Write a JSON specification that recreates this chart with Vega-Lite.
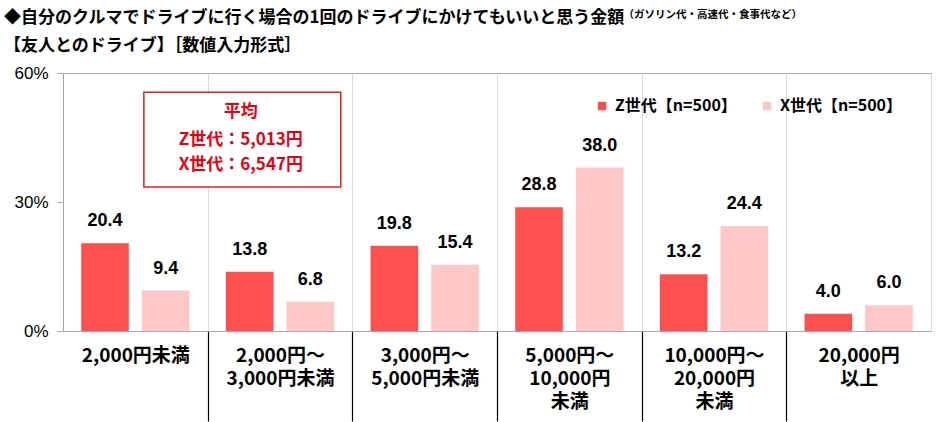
{
  "$schema": "https://vega.github.io/schema/vega-lite/v6.json",
  "width": 940,
  "height": 422,
  "autosize": {"type": "fit", "contains": "padding"},
  "padding": {"left": 3, "top": 9, "right": 9, "bottom": 0},
  "title": {
    "text": ["◆自分のクルマでドライブに行く場合の1回のドライブにかけてもいいと思う金額", "　【友人とのドライブ】［数値入力形式］"],
    "anchor": "start",
    "font": "Noto Sans CJK JP",
    "fontSize": 17,
    "fontWeight": "bold",
    "color": "black",
    "lineHeight": 28,
    "offset": -46,
    "dx": -10
  },
  "config": {
    "font": "Noto Sans CJK JP",
    "view": {"stroke": "#a6a6a6"}
  },
  "resolve": {"scale": {"x": "independent"}},
  "layer": [
    {
      "data": {
        "values": [
          {"cat": "2,000円未満", "gen": "Z世代【n=500】", "v": 20.4},
          {"cat": "2,000円未満", "gen": "X世代【n=500】", "v": 9.4},
          {"cat": "2,000円～|3,000円未満", "gen": "Z世代【n=500】", "v": 13.8},
          {"cat": "2,000円～|3,000円未満", "gen": "X世代【n=500】", "v": 6.8},
          {"cat": "3,000円～|5,000円未満", "gen": "Z世代【n=500】", "v": 19.8},
          {"cat": "3,000円～|5,000円未満", "gen": "X世代【n=500】", "v": 15.4},
          {"cat": "5,000円～|10,000円|未満", "gen": "Z世代【n=500】", "v": 28.8},
          {"cat": "5,000円～|10,000円|未満", "gen": "X世代【n=500】", "v": 38.0},
          {"cat": "10,000円～|20,000円|未満", "gen": "Z世代【n=500】", "v": 13.2},
          {"cat": "10,000円～|20,000円|未満", "gen": "X世代【n=500】", "v": 24.4},
          {"cat": "20,000円|以上", "gen": "Z世代【n=500】", "v": 4.0},
          {"cat": "20,000円|以上", "gen": "X世代【n=500】", "v": 6.0}
        ]
      },
      "encoding": {
        "x": {
          "field": "cat", "type": "nominal", "sort": null,
          "scale": {"paddingInner": 0, "paddingOuter": 0},
          "axis": {
            "title": null,
            "labelExpr": "isValid(datum.value) ? split(datum.value, '|') : ''",
            "labelAngle": 0,
            "labelFont": "Noto Sans CJK JP",
            "labelFontSize": 19,
            "labelFontWeight": "bold",
            "labelColor": "black",
            "labelLineHeight": 23,
            "labelPadding": -75,
            "labelOverlap": false,
            "tickBand": "extent",
            "tickSize": 90,
            "tickColor": "black",
            "tickWidth": 1.2,
            "tickOpacity": {"condition": {"test": "datum.index >= 0 && datum.index < 0.99", "value": 1}, "value": 0},
            "grid": true,
            "gridColor": "#d9d9d9",
            "domainColor": "#a6a6a6"
          }
        },
        "xOffset": {
          "field": "gen", "type": "nominal",
          "scale": {"domain": ["Z世代【n=500】", "X世代【n=500】"], "paddingInner": 0.215, "paddingOuter": 0.3}
        },
        "y": {
          "field": "v", "type": "quantitative",
          "scale": {"domain": [0, 60], "nice": false},
          "axis": {
            "values": [0, 30, 60],
            "labelExpr": "datum.value + '%'",
            "labelFont": "Liberation Sans",
            "labelFontSize": 17,
            "labelColor": "black",
            "labelPadding": 9,
            "tickSize": 6,
            "tickColor": "#a6a6a6",
            "domainColor": "#a6a6a6",
            "grid": false,
            "title": "（ガソリン代・高速代・食事代など）",
            "titleAngle": 0,
            "titleX": 560,
            "titleY": -56,
            "titleAlign": "left",
            "titleBaseline": "alphabetic",
            "titleFont": "Noto Sans CJK JP",
            "titleFontSize": 10.5,
            "titleFontWeight": "bold",
            "titleColor": "black"
          }
        }
      },
      "layer": [
        {
          "mark": {"type": "bar"},
          "encoding": {
            "color": {
              "field": "gen", "type": "nominal",
              "scale": {"domain": ["Z世代【n=500】", "X世代【n=500】"], "range": ["#FF5050", "#FFC8C8"]},
              "legend": {
                "orient": "none",
                "legendX": 531,
                "legendY": 25,
                "direction": "horizontal",
                "title": null,
                "symbolType": "square",
                "symbolSize": 70,
                "symbolStrokeWidth": 0,
                "labelFont": "Noto Sans CJK JP",
                "labelFontSize": 16,
                "labelFontWeight": "bold",
                "labelColor": "black",
                "labelOffset": 5,
                "columnPadding": 22
              }
            }
          }
        },
        {
          "mark": {"type": "text", "dy": -22, "baseline": "middle", "font": "Liberation Sans", "fontSize": 18, "fontWeight": "bold", "color": "black"},
          "encoding": {
            "text": {"field": "v", "type": "quantitative", "format": ".1f"}
          }
        }
      ]
    },
    {
      "encoding": {
        "x": {"field": "bx", "type": "quantitative", "scale": {"domain": [0, 6], "nice": false, "zero": false}, "axis": null},
        "y": {"field": "v", "type": "quantitative"}
      },
      "layer": [
        {
          "data": {"values": [{"bx": 0.559, "bx2": 1.92, "v": 33.5, "v2": 55.5}]},
          "mark": {"type": "rect", "fill": "white", "stroke": "#E02020", "strokeWidth": 1.5},
          "encoding": {
            "x2": {"field": "bx2"},
            "y2": {"field": "v2"}
          }
        },
        {
          "data": {
            "values": [
              {"bx": 1.229, "v": 50.9, "t": "平均"},
              {"bx": 1.229, "v": 44.5, "t": "Z世代：5,013円"},
              {"bx": 1.229, "v": 38.7, "t": "X世代：6,547円"}
            ]
          },
          "mark": {"type": "text", "align": "center", "baseline": "middle", "font": "Noto Sans CJK JP", "fontSize": 17, "fontWeight": "bold", "color": "#E60012"},
          "encoding": {
            "text": {"field": "t", "type": "nominal"}
          }
        }
      ]
    }
  ]
}
